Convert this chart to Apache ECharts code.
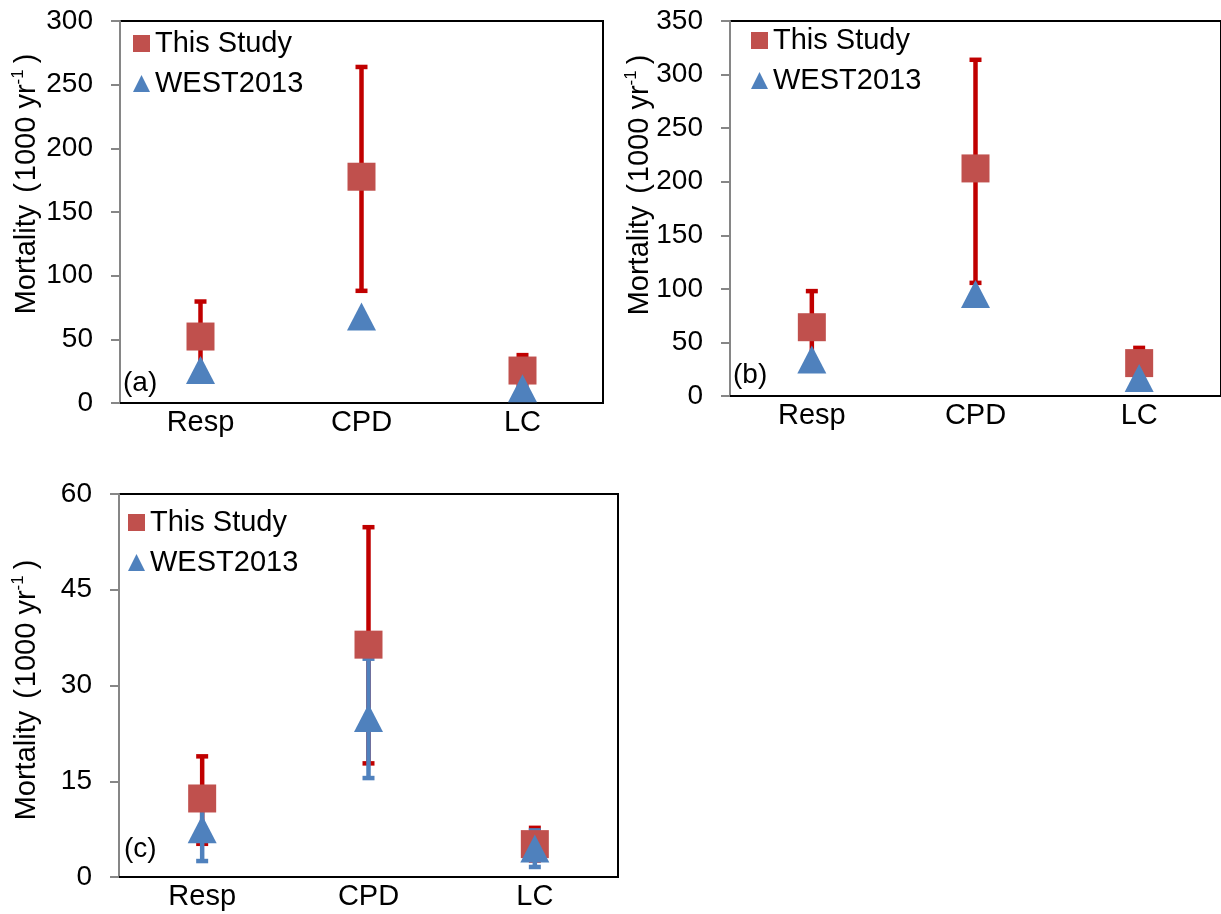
<!DOCTYPE html>
<html>
<head>
<meta charset="utf-8">
<script src="https://cdn.jsdelivr.net/npm/echarts@6/dist/echarts.min.js"></script>
<style>
html,body{margin:0;padding:0;background:#fff;}
#chart{width:1221px;height:914px;}
</style>
</head>
<body>
<div id="chart"></div>
<script>
// ---- data ----
var categories = ['Resp', 'CPD', 'LC'];

var aStudy     = [52.2, 177.7, 25.5];
var aStudyLow  = [24.7, 88.1, 13.4];
var aStudyHigh = [79.7, 263.9, 37.6];
var aWest      = [26.0, 67.9, 11.5];

var bStudy     = [64.2, 212.4, 30.7];
var bStudyLow  = [30.5, 105.6, 16.5];
var bStudyHigh = [97.9, 313.8, 44.9];
var bWest      = [34.1, 95.3, 16.7];

var cStudy     = [12.3, 36.4, 5.15];
var cStudyLow  = [5.2, 17.8, 2.6];
var cStudyHigh = [18.9, 54.8, 7.7];
var cWest      = [7.5, 24.9, 4.45];
var cWestLow   = [2.5, 15.5, 1.57];
var cWestHigh  = [12.5, 34.2, 7.3];

var yTicksA = {min: 0, max: 300, interval: 50};
var yTicksB = {min: 0, max: 350, interval: 50};
var yTicksC = {min: 0, max: 60, interval: 15};

var seriesNames = ['This Study', 'WEST2013'];
var panelLabels = ['(a)', '(b)', '(c)'];

// ---- styles ----
var FONT = "'Liberation Sans', Arial, sans-serif";
var RED_MARK = '#C0504D', BLUE_MARK = '#4F81BD';
var RED_ERR = '#C00000', BLUE_ERR = '#4F81BD';

function errData(low, high) {
  return low.map(function (l, i) { return [i, l, high[i]]; });
}

function errRender(color) {
  return function (params, api) {
    var i = api.value(0);
    var lo = api.coord([i, api.value(1)]);
    var hi = api.coord([i, api.value(2)]);
    var w = 6;
    var st = {stroke: color, lineWidth: 4.5, lineCap: 'butt'};
    return {
      type: 'group',
      children: [
        {type: 'line', shape: {x1: lo[0], y1: lo[1], x2: hi[0], y2: hi[1]}, style: st},
        {type: 'line', shape: {x1: hi[0] - w, y1: hi[1], x2: hi[0] + w, y2: hi[1]}, style: st},
        {type: 'line', shape: {x1: lo[0] - w, y1: lo[1], x2: lo[0] + w, y2: lo[1]}, style: st}
      ]
    };
  };
}

var grids = [
  {left: 120, top: 21, width: 483, height: 382},
  {left: 730, top: 21, width: 495, height: 375},
  {left: 119, top: 494, width: 499, height: 383}
];
var yTicks = [yTicksA, yTicksB, yTicksC];

var option = {
  animation: false,
  backgroundColor: '#fff',
  textStyle: {fontFamily: FONT},
  grid: grids.map(function (g) {
    return Object.assign({show: true, borderColor: '#000', borderWidth: 2, containLabel: false}, g);
  }),
  xAxis: grids.map(function (g, k) {
    return {
      type: 'category', gridIndex: k, data: categories,
      axisLine: {lineStyle: {color: '#000', width: 2}},
      axisTick: {show: false},
      axisLabel: {color: '#000', fontSize: 29, fontFamily: FONT, margin: 5},
      splitLine: {show: false}
    };
  }),
  yAxis: yTicks.map(function (t, k) {
    return {
      type: 'value', gridIndex: k, min: t.min, max: t.max, interval: t.interval,
      axisLine: {show: true, lineStyle: {color: '#868686', width: 2}},
      axisTick: {show: true, length: 9, lineStyle: {color: '#868686', width: 2}},
      axisLabel: {color: '#000', fontSize: 28, fontFamily: FONT, margin: 27},
      splitLine: {show: false}
    };
  }),
  legend: [
    {left: 133, top: 29},
    {left: 751, top: 26},
    {left: 128, top: 508}
  ].map(function (p) {
    return {
      data: seriesNames, orient: 'vertical', left: p.left, top: p.top,
      padding: 0, itemGap: 11, itemWidth: 17, itemHeight: 17,
      selectedMode: false,
      textStyle: {color: '#000', fontSize: 29, fontFamily: FONT}
    };
  }),
  graphic: [],
  series: []
};

var panels = [
  {study: aStudy, lo: aStudyLow, hi: aStudyHigh, west: aWest},
  {study: bStudy, lo: bStudyLow, hi: bStudyHigh, west: bWest},
  {study: cStudy, lo: cStudyLow, hi: cStudyHigh, west: cWest, wlo: cWestLow, whi: cWestHigh}
];

panels.forEach(function (p, k) {
  option.series.push({
    type: 'custom', name: seriesNames[0] + ' err', xAxisIndex: k, yAxisIndex: k, z: 1,
    renderItem: errRender(RED_ERR), data: errData(p.lo, p.hi), encode: {x: 0, y: [1, 2]}, silent: true
  });
  if (p.wlo) {
    option.series.push({
      type: 'custom', name: seriesNames[1] + ' err', xAxisIndex: k, yAxisIndex: k, z: 2,
      renderItem: errRender(BLUE_ERR), data: errData(p.wlo, p.whi), encode: {x: 0, y: [1, 2]}, silent: true
    });
  }
  option.series.push({
    type: 'scatter', name: seriesNames[0], xAxisIndex: k, yAxisIndex: k, z: 3,
    symbol: 'rect', symbolSize: 28, itemStyle: {color: RED_MARK, opacity: 1}, data: p.study
  });
  option.series.push({
    type: 'scatter', name: seriesNames[1], xAxisIndex: k, yAxisIndex: k, z: 4,
    symbol: 'triangle', symbolSize: [29, 28], itemStyle: {color: BLUE_MARK, opacity: 1}, data: p.west
  });
});

// panel labels
[[123, 383], [733, 375], [124, 849]].forEach(function (pos, k) {
  option.graphic.push({
    type: 'text', x: pos[0], y: pos[1], z: 10,
    style: {text: panelLabels[k], fill: '#000', font: '28px ' + FONT, align: 'left', verticalAlign: 'middle'}
  });
});

// rotated y-axis titles
[[27, 184], [640, 185], [27, 690]].forEach(function (pos) {
  option.graphic.push({
    type: 'text', x: pos[0], y: pos[1], rotation: Math.PI / 2, z: 10,
    style: {
      text: '{m|Mortality}{p|(}{m|1000 yr}{s|-1}{q|)}',
      align: 'center', verticalAlign: 'middle',
      rich: {
        m: {fontSize: 29, fontFamily: FONT, fill: '#000', lineHeight: 34},
        p: {fontSize: 29, fontFamily: FONT, fill: '#000', lineHeight: 34, padding: [0, 2, 0, 12]},
        q: {fontSize: 29, fontFamily: FONT, fill: '#000', lineHeight: 34, padding: [0, 0, 0, 6]},
        s: {fontSize: 17, fontFamily: FONT, fill: '#000', verticalAlign: 'top', lineHeight: 20}
      }
    }
  });
});

var chart = echarts.init(document.getElementById('chart'), null, {renderer: 'canvas'});
chart.setOption(option);
</script>
</body>
</html>
